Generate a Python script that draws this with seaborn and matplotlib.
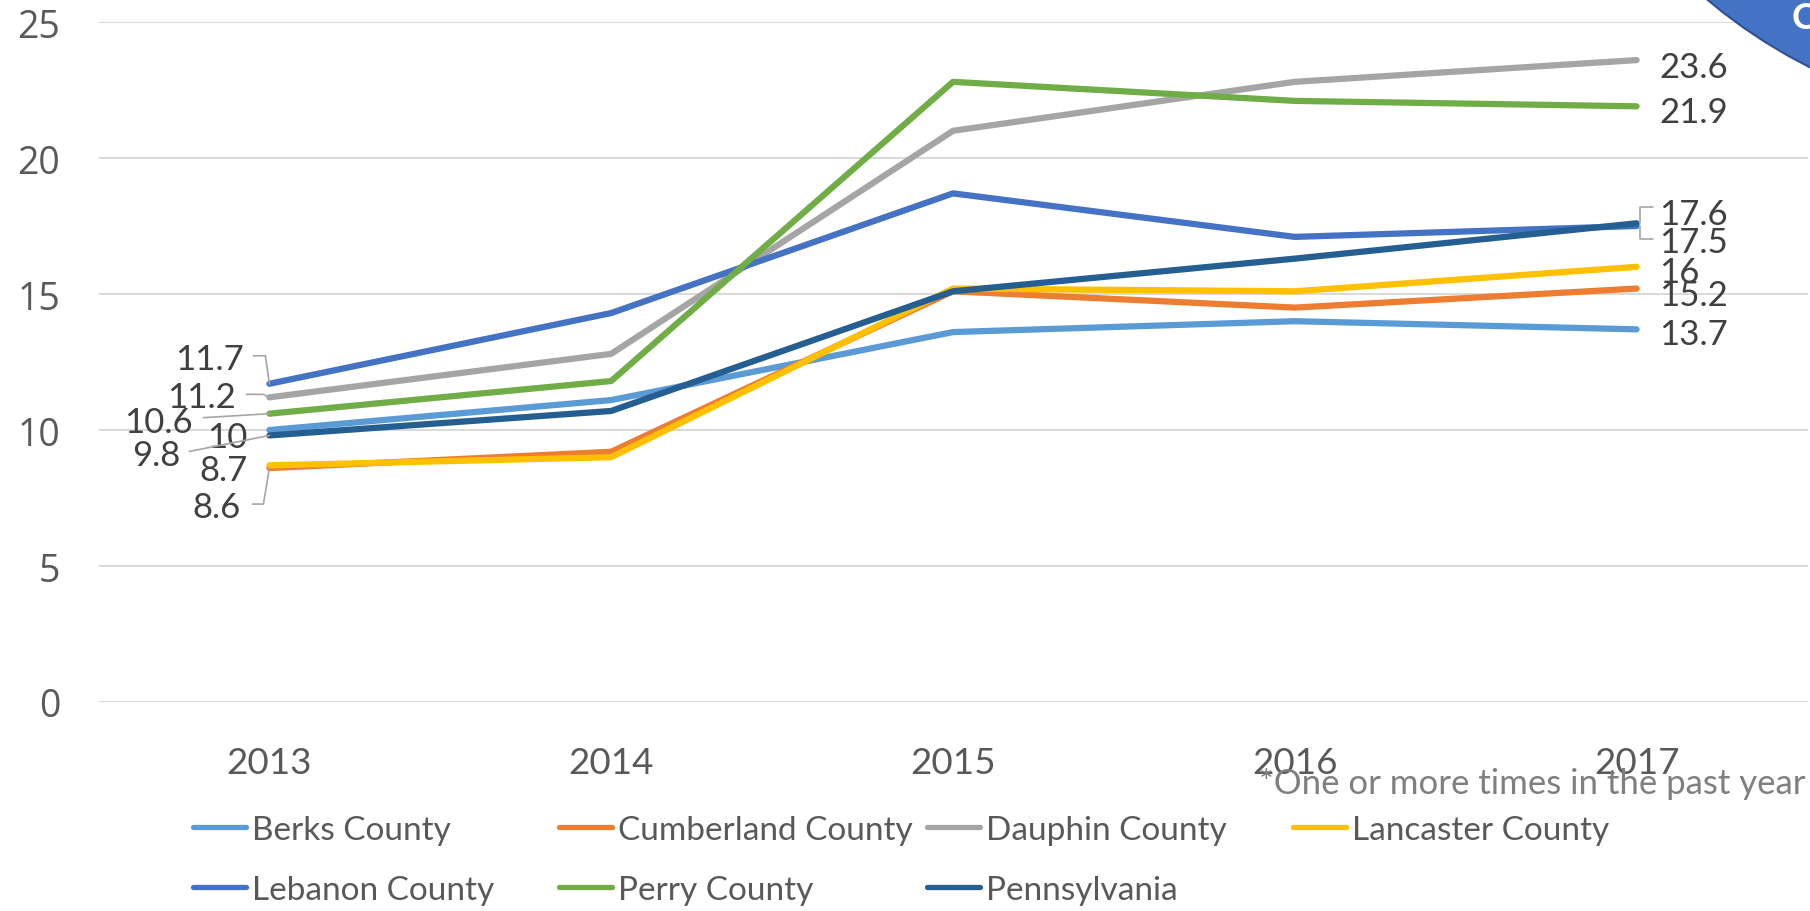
import matplotlib

matplotlib.use("Agg")
import matplotlib.pyplot as plt
import numpy as np
import pandas as pd
import seaborn as sns
from matplotlib.lines import Line2D
from matplotlib.patches import Circle
from matplotlib.transforms import IdentityTransform

# data
years = [2013, 2014, 2015, 2016, 2017]
berks = [10.0, 11.1, 13.6, 14.0, 13.7]
cumberland = [8.6, 9.2, 15.1, 14.5, 15.2]
dauphin = [11.2, 12.8, 21.0, 22.8, 23.6]
lancaster = [8.7, 9.0, 15.2, 15.1, 16.0]
lebanon = [11.7, 14.3, 18.7, 17.1, 17.5]
perry = [10.6, 11.8, 22.8, 22.1, 21.9]
pennsylvania = [9.8, 10.7, 15.1, 16.3, 17.6]

areas = [
    "Berks County",
    "Cumberland County",
    "Dauphin County",
    "Lancaster County",
    "Lebanon County",
    "Perry County",
    "Pennsylvania",
]
series = [berks, cumberland, dauphin, lancaster, lebanon, perry, pennsylvania]
colors = ["#5B9BD5", "#ED7D31", "#A5A5A5", "#FFC000", "#4472C4", "#70AD47", "#255E91"]
footnote = "*One or more times in the past year"

df = pd.DataFrame(
    {
        "Year": years * len(areas),
        "Rate": np.concatenate(series),
        "Area": np.repeat(areas, len(years)),
    }
)

# label placement (pixel offsets from the data point) and leader lines
left_offsets = {
    "Berks County": (-22, -7),
    "Cumberland County": (-29, -39),
    "Dauphin County": (-34, 0),
    "Lancaster County": (-22, -5),
    "Lebanon County": (-26, 25),
    "Perry County": (-77, -8),
    "Pennsylvania": (-89, -20),
}
right_offsets = {
    "Berks County": -5,
    "Cumberland County": -6,
    "Dauphin County": -7,
    "Lancaster County": -5,
    "Lebanon County": -16,
    "Perry County": -6,
    "Pennsylvania": 9,
}
left_leaders = {
    "Lebanon County": [(-16, 28), (-4, 28), (0, 0)],
    "Dauphin County": [(-23, 3), (-6, 3), (0, 0)],
    "Perry County": [(-66, -4), (0, 0)],
    "Pennsylvania": [(-80, -16), (0, 0)],
    "Cumberland County": [(-17, -36), (-6, -36), (0, 0)],
}
right_leaders = {
    "Pennsylvania": [(16, 16), (3, 16), (3, 0)],
    "Lebanon County": [(16, -13), (3, -13), (3, 0)],
}

sns.set_theme(style="white")
plt.rcParams["font.family"] = ["Lato", "DejaVu Sans"]

W, H = 1810, 912
fig = plt.figure(figsize=(W / 100, H / 100), dpi=100)
ax = fig.add_axes([98.5 / W, 209 / H, 1709 / W, 680 / H])

sns.lineplot(
    data=df,
    x="Year",
    y="Rate",
    hue="Area",
    hue_order=areas,
    palette=dict(zip(areas, colors)),
    linewidth=4.5,
    solid_capstyle="round",
    legend=False,
    ax=ax,
)

ax.set_xlim(2012.5, 2017.5)
ax.set_ylim(0, 25)
ax.set_xticks(years)
ax.set_yticks(range(0, 26, 5))
ax.set_xlabel("")
ax.set_ylabel("")
ax.grid(axis="y", color="#D9D9D9", linewidth=1.4)
ax.grid(axis="x", visible=False)
ax.set_axisbelow(True)
sns.despine(ax=ax, left=True, bottom=True)
ax.tick_params(axis="both", length=0)
ax.tick_params(axis="y", pad=27.5, labelsize=27, labelcolor="#595959")
ax.tick_params(axis="x", pad=31.5, labelsize=26.5, labelcolor="#595959")
for t in ax.get_yticklabels():
    t.set_family(["Open Sans", "DejaVu Sans"])

# data labels
for name, vals in zip(areas, series):
    dx, dy = left_offsets[name]
    ax.annotate(f"{vals[0]:g}", (years[0], vals[0]), xytext=(dx, dy),
                textcoords="offset pixels", ha="right", va="center",
                fontsize=25, color="#404040")
    ax.annotate(f"{vals[-1]:g}", (years[-1], vals[-1]), xytext=(23, right_offsets[name]),
                textcoords="offset pixels", ha="left", va="center",
                fontsize=25, color="#404040")


def draw_leader(x, y, offsets):
    px, py = ax.transData.transform((x, y))
    xs = [px + o[0] for o in offsets]
    ys = [py + o[1] for o in offsets]
    fig.add_artist(Line2D(xs, ys, transform=IdentityTransform(),
                          color="#A6A6A6", linewidth=1.2))


for name, vals in zip(areas, series):
    if name in left_leaders:
        draw_leader(years[0], vals[0], left_leaders[name])
    if name in right_leaders:
        draw_leader(years[-1], vals[-1], right_leaders[name])

# legend: one block per column, like the Excel layout
handles = dict(zip(areas, ax.get_lines()[: len(areas)]))
columns = [
    (["Berks County", "Lebanon County"], 193),
    (["Cumberland County", "Perry County"], 559),
    (["Dauphin County", "Pennsylvania"], 927),
    (["Lancaster County"], 1293),
]
for names, x0 in columns:
    leg = fig.legend(
        [handles[n] for n in names],
        names,
        loc="upper left",
        bbox_to_anchor=(x0 / W, 1 - 816 / H),
        frameon=False,
        fontsize=24,
        handlelength=1.6,
        handletextpad=0.18,
        labelspacing=0.9,
        borderpad=0,
        borderaxespad=0,
    )
    for t in leg.get_texts():
        t.set_color("#595959")
    for ln in leg.get_lines():
        ln.set_linewidth(3.8)
        ln.set_solid_capstyle("round")

fig.text(1259 / W, 1 - 794 / H, footnote, fontsize=25, color="#7F7F7F",
         ha="left", va="baseline")

# corner badge cut off by the slide edge
fig.add_artist(Circle((20.45, 13.12), 5.24, transform=fig.dpi_scale_trans,
                      facecolor="#4472C4", edgecolor="#2F528F", linewidth=1.5))
fig.text(1792 / W, 1 - 2 / H, "C", fontsize=26, color="white",
         fontweight="bold", ha="left", va="top")

fig.savefig("out.png", dpi=100)
